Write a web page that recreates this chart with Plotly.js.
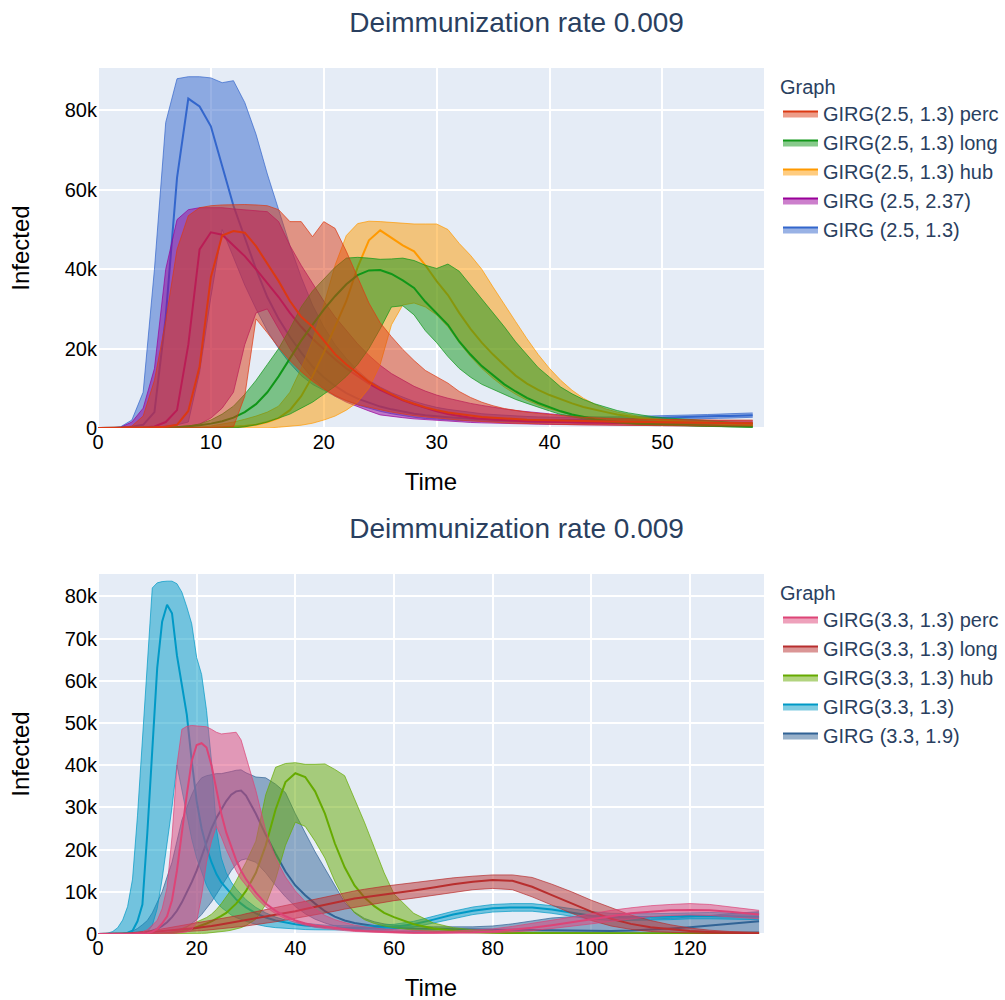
<!DOCTYPE html>
<html><head><meta charset="utf-8">
<script src="https://cdn.plot.ly/plotly-3.0.1.min.js"></script>
<style>
html,body{margin:0;padding:0;overflow:hidden;background:#fff;}
#top{position:absolute;left:0;top:0;width:1005px;height:500px;}
#bot{position:absolute;left:0;top:506px;width:1005px;height:500px;}
</style>
</head><body>
<div id="top"></div><div id="bot"></div>
<script>
// ---------- top chart (values in thousands) ----------
const timeTop = [0,1,2,3,4,5,6,7,8,9,10,11,12,13,14,15,16,17,18,19,20,21,22,23,24,25,26,27,28,29,30,31,32,33,34,35,36,37,38,39,40,41,42,43,44,45,46,47,48,49,50,51,52,53,54,55,56,57,58];

const g25_13_mean = [0,0,0,0.3,0.8,4,28,63,83,81, 76,66,56,48,40,33,27.5,23,19,15.5, 12.8,10.6,8.8,7.4,6.3,5.4,4.7,4.1,3.6,3.2, 2.9,2.7,2.5,2.3,2.2,2.1,2.0,1.95,1.9,1.9, 1.9,1.95,2.0,2.05,2.1,2.2,2.25,2.3,2.4,2.5, 2.6,2.65,2.7,2.8,2.9,3.0,3.05,3.1,3.2];
const g25_13_upper = [0,0,0.3,2,9,40,77,88,88.5,88.5, 88.2,87,87.5,82,74,64,55,46,38,31, 25.5,21,17.5,14.5,12,10.3,8.9,7.7,6.7,5.9, 5.2,4.7,4.3,3.9,3.6,3.4,3.2,3.0,2.9,2.8, 2.7,2.7,2.7,2.7,2.75,2.8,2.85,2.9,2.95,3.0, 3.05,3.1,3.2,3.3,3.4,3.5,3.6,3.7,3.8];
const g25_13_lower = [0,0,0,0,0,0.2,0.5,0.8,1.5,14, 33,50,43,36,30,24.5,20,16.3,13.2,11, 9.5,8,6.8,5.8,5,4.2,3.6,3.1,2.7,2.4, 2.2,2.0,1.9,1.8,1.7,1.6,1.5,1.45,1.4,1.35, 1.35,1.4,1.45,1.5,1.6,1.7,1.8,1.85,1.9,2.0, 2.1,2.15,2.2,2.3,2.4,2.45,2.5,2.6,2.7];

const g25_237_mean = [0,0,0,0,0.1,0.4,1.5,4.5,21,45, 49.3,48.7,46,43.3,40,36.5,33,29,25.5,22.5, 19.8,17.3,15,13,11.2,9.6,8.2,7,6,5.1, 4.2,3.5,3.0,2.6,2.3,2.1,1.9,1.8,1.7,1.6, 1.5,1.45,1.4,1.35,1.3,1.25,1.2,1.2,1.15,1.1, 1.1,1.1,1.05,1.05,1.0,1.0,1.0,1.0,1.0];
const g25_237_upper = [0,0,0.2,1.5,5,15,40,52.5,55,55.5, 55.5,55.5,55.2,55,54.8,54.5,52,46,41,36.5, 32,28,24.5,21.2,18.3,15.8,13.7,12,10.5,9.3, 8.3,7.5,6.8,6.2,5.7,5.2,4.8,4.4,4.1,3.8, 3.5,3.3,3.1,2.9,2.7,2.6,2.5,2.4,2.3,2.2, 2.1,2.05,2.0,1.95,1.9,1.9,1.85,1.85,1.8];
const g25_237_lower = [0,0,0,0,0,0,0,0,0.2,1, 2.5,5,9,21,29,30,25,20,16,12.5, 10,8,6.5,5.3,4.3,3.3,2.9,2.6,2.3,2.1, 1.9,1.7,1.55,1.4,1.3,1.2,1.1,1.05,1.0,0.95, 0.9,0.85,0.8,0.78,0.75,0.72,0.7,0.68,0.65,0.62, 0.6,0.58,0.56,0.55,0.54,0.52,0.5,0.5,0.5];

const hub25_mean = [0,0,0,0,0,0,0,0,0,0, 0.1,0.2,0.3,0.5,0.8,1.5,2.5,4.5,8,13, 19,25.5,32,40.5,47.3,49.8,48,46,44.5,41, 37,33.5,29,25,21.5,18.5,15.8,13.2,11.2,9.6, 8.3,7.2,6.2,5.3,4.6,4.0,3.4,2.9,2.5,2.2, 1.9,1.7,1.5,1.35,1.2,1.05,0.9,0.8,0.7];
const hub25_upper = [0,0,0,0,0,0,0,0,0,0.2, 0.5,1,1.5,2.2,3,4,5.5,9,15,22, 31,41,48.5,51.5,52.1,52,51.8,51.5,51.4,51.4, 51.4,50,46.5,43.5,40,35.5,31,26.8,22.5,18.5, 15,12,9.5,7.5,6,4.8,4,3.4,2.9,2.5, 2.2,2.0,1.8,1.65,1.5,1.4,1.3,1.25,1.2];
const hub25_lower = [0,0,0,0,0,0,0,0,0,0, 0,0,0,0,0,0,0.2,0.4,0.7,1.2, 2,3,4.5,6.5,10,16,26,31,31.5,30.5, 28.5,25.5,21.5,18,15,12.5,10.3,8.5,7,5.8, 4.8,4,3.3,2.8,2.3,1.9,1.6,1.3,1.1,0.9, 0.8,0.7,0.6,0.55,0.5,0.45,0.4,0.35,0.3];

const long25_mean = [0,0,0,0,0,0,0.1,0.2,0.4,0.7, 1.1,1.7,2.6,4,6,9,13,17.5,22,26, 29.8,33.2,36.2,38.5,39.7,39.8,38.8,37.2,35.3,31.8, 29,26,21.8,18.5,15.6,13.2,11,9.2,7.6,6.3, 5.2,4.2,3.4,2.8,2.2,1.8,1.5,1.3,1.1,1.0, 0.9,0.8,0.7,0.6,0.55,0.5,0.45,0.4,0.3];
const long25_upper = [0,0,0,0,0,0.1,0.2,0.3,0.5,1, 2,3.5,5.5,8.5,12,16,20,25,30.5,34.5, 37.5,40.5,42.8,43,42.8,42.5,42.6,42.8,42.2,41, 40.2,41.3,39.5,36,32.5,29,25.5,21.7,18.5,15.2, 12.8,10.3,8.6,7.2,6.1,5.2,4.4,3.8,3.3,2.9, 2.6,2.4,2.2,2.0,1.8,1.7,1.5,1.4,1.3];
const long25_lower = [0,0,0,0,0,0,0,0,0,0, 0,0,0,0.3,0.8,1.5,2.5,3.5,5,6.5, 8.5,10.5,13,16,20,25,30.5,30.8,28.5,24.5, 21.5,18,15,12.8,11,9.7,8.4,7.2,6.2,5.2, 4.3,3.4,2.8,2.3,1.8,1.5,1.2,1.0,0.85,0.75, 0.65,0.55,0.5,0.45,0.4,0.35,0.3,0.25,0.2];

const perc25_mean = [0,0,0,0,0,0.1,0.3,0.8,4.3,15.5, 38,48.5,49.6,49.2,45.8,41.5,37,32,28,25.5, 22,18.6,16,13.7,11.6,9.9,8.4,7.1,6.1,5.2, 4.5,3.9,3.5,3.1,2.8,2.6,2.4,2.2,2.1,2.0, 1.9,1.85,1.8,1.75,1.7,1.65,1.6,1.55,1.5,1.45, 1.4,1.4,1.35,1.35,1.3,1.3,1.25,1.2,1.2];
const perc25_upper = [0,0,0.1,0.5,3,12,27,45,53.5,55.5, 56,56.2,56.3,56.3,56.2,56,55,52,52,48.2, 52,50.3,44.5,38,31.5,26.5,23,19.8,17,14.5, 12.8,11.3,9.2,7.7,6.5,5.6,4.9,4.4,4,3.7, 3.4,3.1,2.9,2.7,2.5,2.4,2.3,2.25,2.2,2.2, 2.15,2.1,2.1,2.05,2.05,2.0,2.0,2.0,2.0];
const perc25_lower = [0,0,0,0,0,0,0,0,0,0.1, 0.1,0.2,0.3,8,27.5,24,20.3,17,14.2,11.8, 9.8,8.2,6.9,5.9,5.2,4.6,4,3.5,3.1,2.8, 2.5,2.2,2.0,1.8,1.6,1.45,1.3,1.2,1.1,1.0, 0.95,0.9,0.85,0.8,0.75,0.7,0.7,0.65,0.65,0.6, 0.6,0.55,0.55,0.5,0.5,0.5,0.5,0.5,0.5];

// ---------- bottom chart (values in thousands) ----------
const timeBot = [0,1,2,3,4,5,6,7,8,9,10,11,12,13,14,15,16,17,18,19,20,21,22,23,24,25,26,27,28,29,30,
  32,34,36,38,40,42,44,46,48,50,52,54,56,58,60,
  64,68,72,76,80,84,88,92,96,100,104,108,112,116,120,124,128,132,134];

const g33_19_mean = [0,0,0,0,0,0,0,0.1,0.1,0.2, 0.4,0.8,1.2,1.9,2.8,4,5.5,7.5,9.8,12.3, 15,18.5,22,25,27.5,29.5,31.5,33,33.8,34,32.8,
  28.5,23.5,19,14.8,11.5,9.2,7.2,5.4,4.1,3.2,2.6,2.2,1.9,1.7,1.5,
  1.3,1.2,1.1,1,1,1,1,0.9,0.8,0.7,0.7,0.8,1,1.3,1.6,2,2.4,2.8, 3];
const g33_19_upper = [0,0,0,0,0.1,0.2,0.3,0.7,1.3,2.2, 3.2,5,7.5,10,13.5,17,22,27,30,33, 35.5,37,37.5,37.8,38,38,38.2,38.5,38.8,38.9,38.2,
  37.2,37,35.5,33.5,28.5,24,19.5,15.5,11.5,7.5,5.2,3.7,2.9,2.4,2.1,
  1.8,1.7,1.7,1.7,1.9,2.4,3.1,3.8,4.1,4.1,3.9,3.7,3.6,3.7,4,4.4,4.8,5.1, 5.3];
const g33_19_lower = [0,0,0,0,0,0,0,0,0,0, 0,0,0,0,0,0.3,0.6,1,1.6,2.4, 3.4,4.6,6,7.6,9.4,11.3,13.2,15,16.5,17.5,17.8,
  17,14.5,11.5,8.8,6.5,4.8,3.5,2.6,1.9,1.4,1.1,0.9,0.8,0.7,0.6,
  0.5,0.45,0.4,0.4,0.4,0.35,0.3,0.25,0.2,0.2,0.2,0.2,0.2,0.25,0.3,0.35,0.4,0.45, 0.5];

const g33_13_mean = [0,0,0,0,0,0.1,0.3,0.8,3,7, 24,44,63,74,78,76,66,59,52,41, 31.5,25,20.5,17,14.2,12.2,10.8,9.4,8.2,7.2,6.3,
  4.9,3.9,3.2,2.7,2.3,2.0,1.8,1.6,1.5,1.4,1.4,1.4,1.4,1.5,1.7,
  2.3,3.4,4.6,5.5,6.1,6.3,6.3,5.8,5.0,4.3,4.0,4.0,4.0,4.1,4.3,4.3,4.2,4.1, 4.1];
const g33_13_upper = [0,0,0.2,0.6,1.5,3.3,6.5,13,28,46, 63,82,83.2,83.5,83.6,83.6,83,81,77.5,73.5, 65.5,61.5,53,41,25,18,14.5,12.3,10.7,9.3,8.1,
  6.3,5,4,3.3,2.8,2.5,2.3,2.1,2,1.9,1.9,1.9,2,2.1,2.3,
  3,4.2,5.4,6.4,7,7.2,7.2,6.7,6,5.3,4.9,4.8,4.8,4.9,5,5.1,5,5, 5];
const g33_13_lower = [0,0,0,0,0,0,0,0,0.1,0.2, 0.5,2,6,13,21,30,40,34,28,22.5, 18,14.5,11.5,9.3,7.6,6.3,5.3,4.5,3.9,3.4,3,
  2.3,1.8,1.5,1.3,1.15,1.05,1,0.95,0.9,0.9,0.9,0.9,0.95,1,1.15,
  1.6,2.6,3.7,4.6,5.2,5.4,5.4,4.9,4.2,3.5,3.2,3.2,3.3,3.4,3.6,3.6,3.5,3.4, 3.4];

const hub33_mean = [0,0,0,0,0,0,0,0,0,0, 0,0,0,0.05,0.1,0.2,0.4,0.6,0.9,1.2, 1.6,2,2.5,3,3.6,4.3,5,6,7.2,8.6,10.2,
  14.5,21,29.5,36,38.1,37.2,33.8,28.5,21.5,15.8,11.5,8.7,6.6,5,4,
  2.3,1.3,0.8,0.5,0.3,0.2,0.15,0.1,0.1,0.1,0.1,0.1,0.1,0.1,0.1,0.1,0.1,0.1, 0.1];
const hub33_upper = [0,0,0,0,0,0,0,0,0,0, 0,0,0.1,0.2,0.3,0.6,0.9,1.3,1.8,2.3, 2.8,3.3,3.9,4.7,5.8,7.2,8.8,10.5,12.6,14.8,17,
  22,33,39.5,40.4,40.6,40.2,40.2,40.3,39,37.5,32,26.5,20.5,14.5,9.5,
  4.9,2.6,1.5,1,0.7,0.5,0.4,0.35,0.3,0.3,0.3,0.25,0.25,0.25,0.2,0.2,0.2,0.2, 0.2];
const hub33_lower = [0,0,0,0,0,0,0,0,0,0, 0,0,0,0,0,0,0,0,0,0, 0.1,0.15,0.2,0.3,0.4,0.5,0.7,0.9,1.2,1.5,2,
  3.5,7,13,21,26.5,25.5,22,18,12.5,8,5,3.4,2.5,1.9,1.5,
  0.9,0.6,0.4,0.25,0.15,0.1,0.05,0.05,0.05,0.05,0.05,0.05,0.05,0.05,0.05,0.05,0.05,0.05, 0.05];

const long33_mean = [0,0,0,0,0,0,0.05,0.1,0.2,0.3, 0.4,0.5,0.5,0.6,0.7,0.8,0.9,1,1.2,1.3, 1.4,1.6,1.7,1.9,2.1,2.3,2.5,2.7,2.9,3.1,3.3,
  3.7,4.1,4.5,4.9,5.4,5.9,6.4,7,7.5,8,8.4,8.7,9,9.3,9.6,
  10.3,11,11.8,12.4,12.8,12.6,11.2,9.2,7.3,5.3,3.6,2.4,1.6,1.1,0.7,0.5,0.3,0.2, 0.2];
const long33_upper = [0,0,0,0,0,0.1,0.2,0.3,0.4,0.55, 0.7,0.85,1,1.2,1.4,1.6,1.8,2,2.2,2.4, 2.6,2.8,3,3.2,3.4,3.6,3.8,4,4.3,4.5,4.8,
  5.3,5.8,6.3,6.8,7.3,7.8,8.3,8.8,9.3,9.8,10.2,10.6,11,11.3,11.6,
  12.2,12.8,13.3,13.7,14,14,13.4,11.8,10,8,6.3,4.5,3.2,2.2,1.4,0.9,0.6,0.4, 0.4];
const long33_lower = [0,0,0,0,0,0,0,0,0,0, 0,0,0.2,0.25,0.3,0.35,0.4,0.45,0.5,0.6, 0.7,0.8,0.9,1,1.1,1.25,1.4,1.5,1.6,1.75,1.9,
  2.2,2.5,2.9,3.3,3.7,4.1,4.5,4.9,5.4,5.9,6.3,6.7,7.1,7.5,7.9,
  8.5,9.2,9.9,10.5,10.8,10.5,8.8,6.8,4.9,3.2,1.9,1.1,0.6,0.4,0.2,0.1,0.1,0.1, 0.1];

const perc33_mean = [0,0,0,0,0,0,0,0,0,0.1, 0.2,0.5,1.2,2.5,4.2,8,15,24.5,33,41, 44.8,45.2,44.2,40,34,28.5,24,20.5,17.5,15,13,
  9.8,7.2,5.5,4.2,3.2,2.5,2,1.7,1.4,1.1,0.9,0.7,0.6,0.5,0.4,
  0.3,0.3,0.3,0.4,0.6,1,1.5,2.1,2.8,3.5,4.3,4.9,5.3,5.6,5.7,5.6,5.3,4.8, 4.6];
const perc33_upper = [0,0,0,0,0,0,0.1,0.2,0.3,0.5, 1,2,3.2,6,11,23,40,48.5,49.2,49.4, 49.3,49.2,49.1,48.5,47.8,47.4,47.5,47.7,47.8,46,42,
  34,24.5,18,13.5,10.2,7.7,5.9,4.4,3.4,2.7,2.1,1.7,1.4,1.2,1,
  0.8,0.7,0.7,0.9,1.2,1.8,2.5,3.2,4,4.8,5.6,6.2,6.7,7,7.2,7,6.5,5.9, 5.6];
const perc33_lower = [0,0,0,0,0,0,0,0,0,0, 0,0,0,0,0,0.1,0.2,0.3,0.5,1, 3,9,17,22,25.5,23,20,17.5,15,13,11.5,
  8.6,6.4,4.8,3.6,2.7,2.1,1.6,1.3,1,0.8,0.6,0.5,0.4,0.3,0.25,
  0.2,0.2,0.2,0.2,0.3,0.5,0.8,1.3,1.8,2.4,3,3.6,4.1,4.4,4.5,4.4,4.1,3.8, 3.6];

// ---------- names / colours ----------
const namesTop = ['GIRG (2.5, 1.3)', 'GIRG (2.5, 2.37)', 'GIRG(2.5, 1.3) hub', 'GIRG(2.5, 1.3) long', 'GIRG(2.5, 1.3) perc'];
const colorsTop = ['#3366CC', '#990099', '#FF9900', '#109618', '#DC3912'];
const namesBot = ['GIRG (3.3, 1.9)', 'GIRG(3.3, 1.3)', 'GIRG(3.3, 1.3) hub', 'GIRG(3.3, 1.3) long', 'GIRG(3.3, 1.3) perc'];
const colorsBot = ['#316395', '#0099C6', '#66AA00', '#B82E2E', '#DD4477'];

function rgba(hex, a) {
  const n = parseInt(hex.slice(1), 16);
  return 'rgba(' + ((n >> 16) & 255) + ',' + ((n >> 8) & 255) + ',' + (n & 255) + ',' + a + ')';
}
const K = v => v * 1000;

function bandTraces(t, up, mean, lo, color, name) {
  const fc = rgba(color, 0.5);
  return [
    {x: t, y: up.map(K), mode: 'lines', line: {color: color, width: 0.7}, showlegend: false, hoverinfo: 'skip'},
    {x: t, y: mean.map(K), mode: 'lines', line: {color: color, width: 2}, fill: 'tonexty', fillcolor: fc, name: name},
    {x: t, y: lo.map(K), mode: 'lines', line: {color: color, width: 0.7}, fill: 'tonexty', fillcolor: fc, showlegend: false, hoverinfo: 'skip'}
  ];
}

const topSeries = [
  [g25_13_upper, g25_13_mean, g25_13_lower],
  [g25_237_upper, g25_237_mean, g25_237_lower],
  [hub25_upper, hub25_mean, hub25_lower],
  [long25_upper, long25_mean, long25_lower],
  [perc25_upper, perc25_mean, perc25_lower]
];
const botSeries = [
  [g33_19_upper, g33_19_mean, g33_19_lower],
  [g33_13_upper, g33_13_mean, g33_13_lower],
  [hub33_upper, hub33_mean, hub33_lower],
  [long33_upper, long33_mean, long33_lower],
  [perc33_upper, perc33_mean, perc33_lower]
];

let tracesTop = [], tracesBot = [];
topSeries.forEach((s, i) => { tracesTop = tracesTop.concat(bandTraces(timeTop, s[0], s[1], s[2], colorsTop[i], namesTop[i])); });
botSeries.forEach((s, i) => { tracesBot = tracesBot.concat(bandTraces(timeBot, s[0], s[1], s[2], colorsBot[i], namesBot[i])); });

const FONT = 'Liberation Sans, Arial, sans-serif';
function makeLayout(xRange, xDtick, yRange, yDtick) {
  const ax = {
    gridcolor: 'white', gridwidth: 2, zerolinecolor: 'white', zerolinewidth: 2,
    showline: false, ticks: '', tickfont: {color: 'black', size: 20}, automargin: false
  };
  return {
    width: 1005, height: 500,
    margin: {l: 98, r: 241, t: 68, b: 72, autoexpand: false},
    paper_bgcolor: 'white', plot_bgcolor: '#E5ECF6',
    font: {family: FONT, size: 20, color: '#2a3f5f'},
    title: {text: 'Deimmunization rate 0.009', x: 0.514, xanchor: 'center', xref: 'container',
            y: 1 - 22 / 500, yanchor: 'middle', yref: 'container', font: {size: 28, color: '#2a3f5f'}},
    xaxis: Object.assign({}, ax, {range: xRange, dtick: xDtick,
            title: {text: 'Time', standoff: 21, font: {size: 24, color: 'black'}}}),
    yaxis: Object.assign({}, ax, {range: yRange, dtick: yDtick,
            title: {text: 'Infected', standoff: 28, font: {size: 24, color: 'black'}}}),
    legend: {x: (778 - 98) / 666, xanchor: 'left', y: 1, yanchor: 'top', itemwidth: 35,
             title: {text: 'Graph', font: {size: 20, color: '#2a3f5f'}},
             traceorder: 'reversed', font: {size: 20, color: '#2a3f5f'}},
    showlegend: true
  };
}

Plotly.newPlot('top', tracesTop, makeLayout([0, 59], 10, [0, 90700], 20000), {displayModeBar: false, staticPlot: true});
Plotly.newPlot('bot', tracesBot, makeLayout([0, 135], 20, [0, 85300], 10000), {displayModeBar: false, staticPlot: true});
</script>
</body></html>
